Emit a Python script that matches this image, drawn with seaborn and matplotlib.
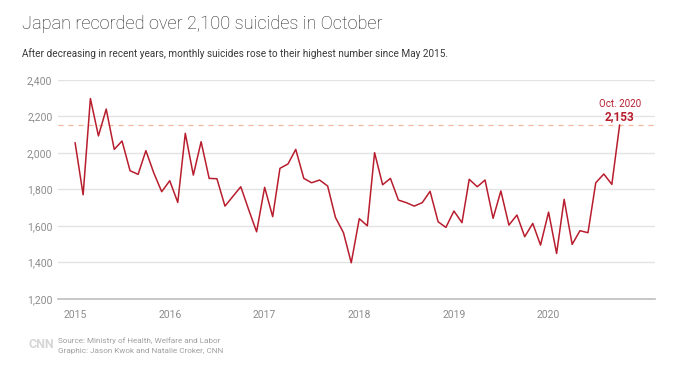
import pandas as pd
import seaborn as sns
import matplotlib.pyplot as plt
import matplotlib.dates as mdates

# Monthly suicides in Japan, Jan 2015 - Oct 2020
values_2015 = [2056, 1770, 2298, 2093, 2240, 2019, 2065, 1902, 1882, 2012, 1888, 1787]
values_2016 = [1847, 1728, 2107, 1878, 2061, 1860, 1858, 1708, 1762, 1814, 1686, 1567]
values_2017 = [1811, 1650, 1915, 1939, 2019, 1860, 1836, 1851, 1818, 1646, 1562, 1397]
values_2018 = [1639, 1600, 2001, 1825, 1860, 1741, 1727, 1708, 1727, 1789, 1622, 1591]
values_2019 = [1681, 1617, 1855, 1814, 1851, 1641, 1791, 1604, 1659, 1540, 1613, 1494]
values_2020 = [1675, 1448, 1745, 1498, 1573, 1562, 1836, 1884, 1827, 2153]

year_ticks = [2015, 2016, 2017, 2018, 2019, 2020]
y_ticks = [1200, 1400, 1600, 1800, 2000, 2200, 2400]
peak_label = "Oct. 2020"
peak_value = 2153

values = values_2015 + values_2016 + values_2017 + values_2018 + values_2019 + values_2020
months = pd.date_range("2015-01-01", periods=len(values), freq="MS")
df = pd.DataFrame({"month": months, "suicides": values})

RED = "#b81d2e"
GRID = "#e3e3e3"
TXT = "#8c8c8c"

sns.set_style("white")
plt.rcParams["font.family"] = ["Roboto", "DejaVu Sans"]

fig = plt.figure(figsize=(6.96, 3.74), dpi=100)
ax = fig.add_axes([0.0833, 0.2013, 0.858, 0.585])

for v in y_ticks[1:]:
    ax.axhline(v, color=GRID, lw=1.0, zorder=0)
ax.axhline(peak_value, color="#f4b89c", lw=0.9, ls=(0, (4, 4)), zorder=1)

sns.lineplot(data=df, x="month", y="suicides", color=RED, lw=1.1, ax=ax, zorder=3)

ax.set_ylim(1200, 2400)
ax.set_xlim(pd.Timestamp("2014-10-27"), pd.Timestamp("2021-02-15"))
ax.set_yticks(y_ticks)
ax.set_yticklabels([f"{v:,}" for v in y_ticks])
ax.set_xticks([pd.Timestamp(f"{y}-01-01") for y in year_ticks])
ax.xaxis.set_major_formatter(mdates.DateFormatter("%Y"))
ax.set_xlabel("")
ax.set_ylabel("")

for s in ["top", "right", "left"]:
    ax.spines[s].set_visible(False)
ax.spines["bottom"].set_color("#bdbdbd")
ax.spines["bottom"].set_linewidth(1.2)
ax.tick_params(axis="x", colors=TXT, labelsize=7.5, length=4, width=0.8,
               direction="inout", pad=6, color="#bdbdbd")
ax.tick_params(axis="y", colors=TXT, labelsize=7.5, length=0, pad=4)
for lab in ax.get_xticklabels() + ax.get_yticklabels():
    lab.set_color(TXT)

peak_x = df["month"].iloc[-1]
ax.annotate(peak_label, xy=(peak_x, peak_value), xytext=(0, 15),
            textcoords="offset points", ha="center", va="center",
            color=RED, fontsize=7)
ax.annotate(f"{peak_value:,}", xy=(peak_x, peak_value), xytext=(0, 6.2),
            textcoords="offset points", ha="center", va="center",
            color=RED, fontsize=8.5, fontweight="bold")

fig.text(0.031, 0.935, "Japan recorded over 2,100 suicides in October",
         fontsize=13.1, color="#262626", fontweight="light", va="center")
fig.text(0.031, 0.858,
         "After decreasing in recent years, monthly suicides rose to their highest number since May 2015.",
         fontsize=7.2, color="#3a3a3a", va="center")

fig.text(0.041, 0.08, "CNN", fontsize=9, color="#d6d6d6", fontweight="bold", va="center")
fig.text(0.083, 0.088, "Source: Ministry of Health, Welfare and Labor",
         fontsize=5.9, color="#a0a0a0", va="center")
fig.text(0.083, 0.062, "Graphic: Jason Kwok and Natalie Croker, CNN",
         fontsize=5.9, color="#a0a0a0", va="center")

fig.savefig("out.png", dpi=100, facecolor="white")
